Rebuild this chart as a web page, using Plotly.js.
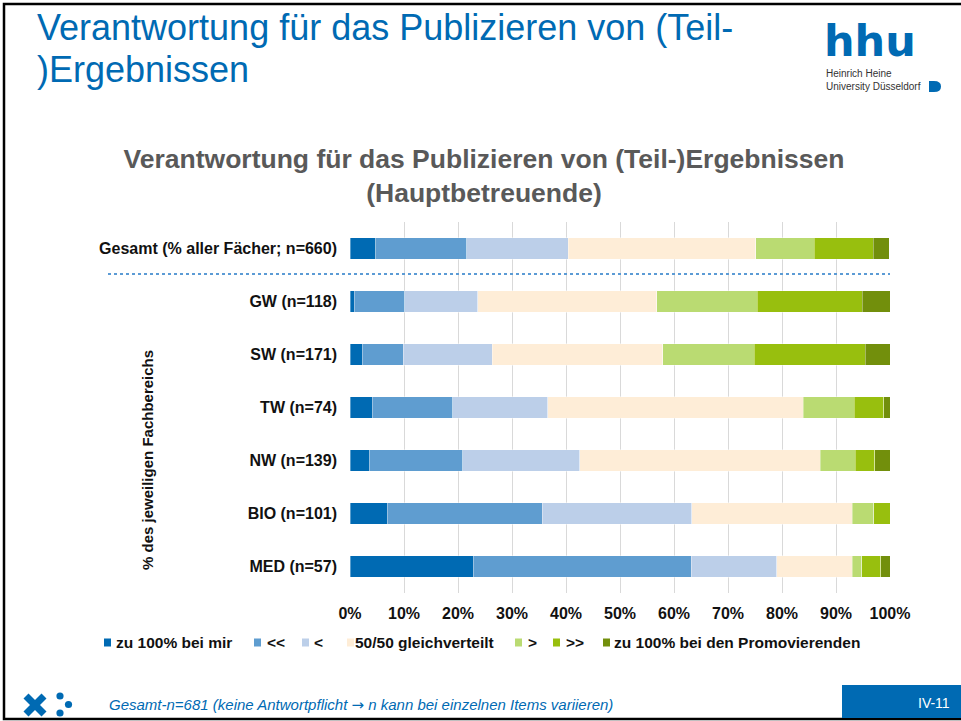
<!DOCTYPE html>
<html>
<head>
<meta charset="utf-8">
<script src="https://cdn.plot.ly/plotly-3.0.1.min.js"></script>
<style>
html,body{margin:0;padding:0;background:#fff;}
#chart{width:961px;height:721px;}
</style>
</head>
<body>
<div id="chart"></div>
<script>
// ---- data ----
const categories = [
  'Gesamt (% aller Fächer; n=660)',
  'GW (n=118)',
  'SW (n=171)',
  'TW (n=74)',
  'NW (n=139)',
  'BIO (n=101)',
  'MED (n=57)'
];
const seriesNames = ['zu 100% bei mir', '<<', '<', '50/50 gleichverteilt', '>', '>>', 'zu 100% bei den Promovierenden'];
const s_mir   = [4.8, 0.8, 2.3, 4.1, 3.6, 6.9, 22.8];
const s_ll    = [16.8, 9.3, 7.6, 14.9, 17.3, 28.7, 40.4];
const s_l     = [18.8, 13.6, 16.4, 17.6, 21.6, 27.7, 15.8];
const s_eq    = [34.7, 33.1, 31.6, 47.3, 44.6, 29.7, 14.0];
const s_g     = [10.9, 18.6, 17.0, 9.5, 6.5, 4.0, 1.8];
const s_gg    = [10.9, 19.5, 20.5, 5.4, 3.6, 3.0, 3.5];
const s_prom  = [3.0, 5.1, 4.7, 1.4, 2.9, 0.0, 1.7];
const xTickVals = [0,10,20,30,40,50,60,70,80,90,100];
const xTickText = ['0%','10%','20%','30%','40%','50%','60%','70%','80%','90%','100%'];

// ---- styles ----
const colors = ['#006ab3', '#5f9dd0', '#bccfe9', '#feedd7', '#badb72', '#98bf0e', '#728f0c'];
const allSeries = [s_mir, s_ll, s_l, s_eq, s_g, s_gg, s_prom];

const traces = allSeries.map((vals, i) => ({
  type: 'bar',
  orientation: 'h',
  name: seriesNames[i],
  y: categories,
  x: vals,
  marker: {color: colors[i], line: {color: 'rgba(255,255,255,0.6)', width: 0.6}},
  hoverinfo: 'x+name'
}));

// pixel -> paper helpers (plot area: x 350..890, y 222..593)
const L = 350, R = 890, T = 222, B = 593;
const px = x => (x - L) / (R - L);
const py = y => (B - y) / (B - T);

const BLUE = '#006ab3';
const FONT = 'Liberation Sans, Arial, sans-serif';
const shapes = [];
const annotations = [];

// slide frame
shapes.push({type:'rect', xref:'paper', yref:'paper', x0:px(4), x1:px(966), y0:py(4), y1:py(719),
  line:{color:'#000', width:2.5}, fillcolor:'rgba(0,0,0,0)', layer:'above'});
// blue page-number box
shapes.push({type:'rect', xref:'paper', yref:'paper', x0:px(842), x1:px(962), y0:py(685), y1:py(718),
  line:{width:0}, fillcolor:BLUE});
// dotted separator
shapes.push({type:'line', xref:'paper', yref:'paper', x0:px(108), x1:px(890), y0:py(274), y1:py(274),
  line:{color:'#5b9bd5', width:2, dash:'dot'}});

// legend (custom)
const legSqX = [104, 254, 302, 347, 515, 553, 603];
const legTxX = [115, 266, 313, 354, 527, 565, 613];
const legY = 642.5;
seriesNames.forEach((n, i) => {
  shapes.push({type:'rect', xref:'paper', yref:'paper', x0:px(legSqX[i]), x1:px(legSqX[i]+7),
    y0:py(legY-4), y1:py(legY+4), line:{width:0}, fillcolor:colors[i]});
  annotations.push({xref:'paper', yref:'paper', x:px(legTxX[i]), y:py(legY), xanchor:'left', yanchor:'middle',
    text:n.replace(/</g,'&lt;').replace(/>/g,'&gt;'), showarrow:false, borderpad:0,
    font:{family:FONT, size:15.5, weight:'bold', color:'#111'}});
});

// footer logo (X + dots)
shapes.push({type:'line', xref:'paper', yref:'paper', x0:px(26), y0:py(696), x1:px(44), y1:py(714), line:{color:BLUE, width:7}});
shapes.push({type:'line', xref:'paper', yref:'paper', x0:px(44), y0:py(696), x1:px(26), y1:py(714), line:{color:BLUE, width:7}});
[[60,696],[68.5,704.5],[60,713]].forEach(c => {
  shapes.push({type:'circle', xref:'paper', yref:'paper', x0:px(c[0]-3.6), x1:px(c[0]+3.6), y0:py(c[1]-3.6), y1:py(c[1]+3.6),
    line:{width:0}, fillcolor:BLUE});
});
// hhu logo "D" mark
(function(){
  const x0=929, x1=941, y0=81, y1=92, xm=934;
  const p = `M ${px(x0)},${py(y0)} L ${px(xm)},${py(y0)} Q ${px(x1)},${py(y0)} ${px(x1)},${py((y0+y1)/2)} Q ${px(x1)},${py(y1)} ${px(xm)},${py(y1)} L ${px(x0)},${py(y1)} Z`;
  shapes.push({type:'path', xref:'paper', yref:'paper', path:p, line:{width:0}, fillcolor:BLUE});
})();

// slide title
annotations.push({xref:'paper', yref:'paper', x:px(36), y:py(27.5), xanchor:'left', yanchor:'middle', showarrow:false, borderpad:0,
  text:'Verantwortung für das Publizieren von (Teil-', font:{family:FONT, size:36, color:BLUE}});
annotations.push({xref:'paper', yref:'paper', x:px(36), y:py(69), xanchor:'left', yanchor:'middle', showarrow:false, borderpad:0,
  text:')Ergebnissen', font:{family:FONT, size:36, color:BLUE}});

// hhu logo text
annotations.push({xref:'paper', yref:'paper', x:px(823), y:py(41.5), xanchor:'left', yanchor:'middle', showarrow:false, borderpad:0,
  text:'hhu', font:{family:'DejaVu Sans, sans-serif', size:43, weight:'bold', color:BLUE}});
annotations.push({xref:'paper', yref:'paper', x:px(825), y:py(73.5), xanchor:'left', yanchor:'middle', showarrow:false, borderpad:0,
  text:'Heinrich Heine', font:{family:FONT, size:10, color:'#333'}});
annotations.push({xref:'paper', yref:'paper', x:px(825), y:py(86), xanchor:'left', yanchor:'middle', showarrow:false, borderpad:0,
  text:'University Düsseldorf', font:{family:FONT, size:10, color:'#333'}});

// y-axis title (group label)
annotations.push({xref:'paper', yref:'paper', x:px(147), y:py(460), xanchor:'center', yanchor:'middle', showarrow:false, textangle:-90,
  text:'% des jeweiligen Fachbereichs', font:{family:FONT, size:15, weight:'bold', color:'#111'}});

// footer text
annotations.push({xref:'paper', yref:'paper', x:px(108), y:py(705), xanchor:'left', yanchor:'middle', showarrow:false, borderpad:0,
  text:'<i>Gesamt-n=681 (keine Antwortpflicht <span style="font-family:DejaVu Sans">→</span> n kann bei einzelnen Items variieren)</i>',
  font:{family:FONT, size:15, color:BLUE}});
annotations.push({xref:'paper', yref:'paper', x:px(934), y:py(703), xanchor:'center', yanchor:'middle', showarrow:false, borderpad:0,
  text:'IV-11', font:{family:FONT, size:14, color:'#fff'}});

const layout = {
  width: 961, height: 721,
  margin: {l: L, r: 961 - R, t: T, b: 721 - B, pad: 0},
  paper_bgcolor: '#fff', plot_bgcolor: '#fff',
  barmode: 'stack', bargap: 0.6,
  showlegend: false,
  title: {
    text: 'Verantwortung für das Publizieren von (Teil-)Ergebnissen<br>(Hauptbetreuende)',
    x: 484/961, xanchor: 'center', xref: 'container',
    y: 1 - 167.5/721, yanchor: 'middle', yref: 'container',
    font: {family: FONT, size: 26.5, weight: 'bold', color: '#595959'}
  },
  xaxis: {
    range: [0, 100], tickvals: xTickVals, ticktext: xTickText,
    showgrid: true, gridcolor: '#d9d9d9', gridwidth: 1, zeroline: false, showline: false,
    ticks: '', ticklabelstandoff: 9,
    tickfont: {family: FONT, size: 16, weight: 'bold', color: '#111'},
    fixedrange: true
  },
  yaxis: {
    type: 'category', categoryorder: 'array', categoryarray: categories,
    range: [6.5, -0.5], showgrid: false, zeroline: false, showline: false,
    ticks: '', ticklabelstandoff: 12,
    tickfont: {family: FONT, size: 16, weight: 'bold', color: '#111'},
    fixedrange: true
  },
  shapes: shapes,
  annotations: annotations
};

Plotly.newPlot('chart', traces, layout, {displayModeBar: false, staticPlot: true});
</script>
</body>
</html>
